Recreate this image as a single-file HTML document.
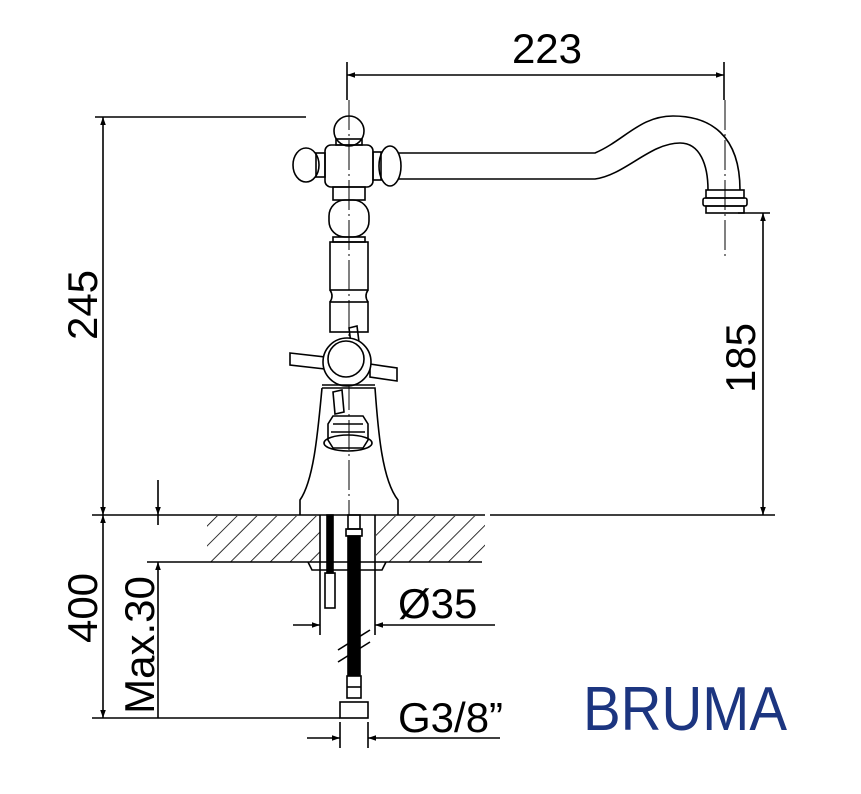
<!DOCTYPE html>
<html><head><style>body{margin:0;background:#fff}svg{display:block}</style></head>
<body>
<svg width="861" height="794" viewBox="0 0 861 794" xmlns="http://www.w3.org/2000/svg" font-family="Liberation Sans, sans-serif">
<defs>
<marker id="a" viewBox="0 0 10 10" refX="10" refY="5" markerWidth="12" markerHeight="8" markerUnits="userSpaceOnUse" orient="auto-start-reverse"><path d="M0,1.5 L10,5 L0,8.5z" fill="#000"/></marker>
<pattern id="h" width="14" height="14" patternUnits="userSpaceOnUse" patternTransform="rotate(45)"><line x1="0" y1="0" x2="0" y2="14" stroke="#000" stroke-width="1.6"/></pattern>
</defs>
<g stroke="#000" stroke-width="1.6" fill="none">
<!-- 223 -->
<line x1="347" y1="62" x2="347" y2="100"/><line x1="724" y1="62" x2="724" y2="100"/>
<line x1="347" y1="75" x2="724" y2="75" marker-start="url(#a)" marker-end="url(#a)"/>
<!-- 245 -->
<line x1="95" y1="117" x2="306" y2="117"/>
<line x1="103" y1="117" x2="103" y2="515" marker-start="url(#a)" marker-end="url(#a)"/>
<!-- counter -->
<line x1="92" y1="515" x2="485" y2="515"/><line x1="490" y1="515" x2="775" y2="515"/>
<!-- 185 -->
<line x1="738" y1="213" x2="770" y2="213"/>
<line x1="763" y1="213" x2="763" y2="515" marker-start="url(#a)" marker-end="url(#a)"/>
<!-- center lines -->
<line x1="349" y1="100" x2="349" y2="515" stroke-width="1" stroke-dasharray="30,4,2,4"/>
<line x1="725" y1="100" x2="725" y2="260" stroke-width="1" stroke-dasharray="30,4,2,4"/>
<!-- spout -->
<path d="M398,153 L595,153 C625,140 640,116 673,116 C710,116 740,135 740,190"/>
<path d="M398,179 L595,179 C625,175 650,143 680,143 C700,143 708,165 708,190"/>
<rect x="706" y="190" width="38" height="8"/><rect x="703" y="198" width="44" height="8" rx="2"/><rect x="706" y="206" width="38" height="7"/>
<!-- head -->
<ellipse cx="349" cy="131" rx="15" ry="15"/><rect x="336" y="139" width="26" height="6"/>
<rect x="325" y="145" width="48" height="42" rx="6"/>
<ellipse cx="306" cy="165" rx="13" ry="17"/><rect x="316" y="153" width="9" height="24"/>
<ellipse cx="390" cy="166" rx="11" ry="20"/><rect x="373" y="152" width="8" height="28"/>
<!-- column -->
<rect x="333" y="187" width="32" height="13"/>
<rect x="329" y="200" width="40" height="37" rx="16"/>
<rect x="333" y="237" width="32" height="5"/>
<rect x="330" y="242" width="38" height="48"/>
<path d="M330,290 Q334,296 330,302 M368,290 Q364,296 368,302"/>
<rect x="330" y="302" width="38" height="30"/>
<!-- cross handle -->
<path d="M290,353 L325,357 L325,369 L290,365 Z"/>
<path d="M370,364 L397,368 L397,381 L370,377 Z"/>
<path d="M349,328 L357,326 L359,342 L351,344 Z"/>
<path d="M333,392 L342,390 L344,412 L335,414 Z"/>
<circle cx="347" cy="362" r="24" fill="#fff"/>
<circle cx="346" cy="359" r="18"/>
<!-- base -->
<path d="M322,388 L375,388 C378,430 382,480 398,500 L398,515 M322,388 C318,430 314,480 300,500 L300,515"/>
<line x1="322" y1="385" x2="375" y2="385"/>
<path d="M333,416 L363,416 L368,424 L368,440 L363,448 L333,448 L328,440 L328,424 Z"/>
<ellipse cx="348" cy="443" rx="24" ry="8"/>
<line x1="333" y1="424" x2="363" y2="424"/><line x1="331" y1="432" x2="365" y2="432"/>
<!-- hatched block -->
<rect x="207" y="516" width="113" height="46" fill="url(#h)" stroke="none"/>
<rect x="376" y="516" width="109" height="46" fill="url(#h)" stroke="none"/>
<line x1="147" y1="562" x2="482" y2="562"/>
<line x1="320" y1="515" x2="320" y2="635"/><line x1="375" y1="515" x2="375" y2="635"/>
<path d="M308,562 L312,570 L382,570 L386,562"/>
<!-- thin pipe -->
<rect x="327" y="515" width="6" height="58" fill="#000"/>
<rect x="325" y="573" width="10" height="35"/>
<!-- hose -->
<rect x="348" y="515" width="12" height="14"/>
<rect x="346" y="529" width="16" height="7"/>
<rect x="348" y="536" width="12" height="160" fill="#000"/>
<rect x="347" y="676" width="14" height="22" fill="#fff"/>
<line x1="347" y1="687" x2="361" y2="687"/>
<rect x="340" y="702" width="28" height="16"/>
<line x1="338" y1="650" x2="370" y2="630"/><line x1="338" y1="662" x2="370" y2="642"/>
<!-- Ø35 -->
<line x1="293" y1="625" x2="320" y2="625" marker-end="url(#a)"/>
<line x1="495" y1="625" x2="375" y2="625" marker-end="url(#a)"/>
<!-- G3/8 -->
<line x1="340" y1="722" x2="340" y2="748"/><line x1="368" y1="722" x2="368" y2="748"/>
<line x1="307" y1="738" x2="340" y2="738" marker-end="url(#a)"/>
<line x1="500" y1="738" x2="368" y2="738" marker-end="url(#a)"/>
<!-- Max.30 -->
<line x1="158" y1="480" x2="158" y2="515" marker-end="url(#a)"/>
<line x1="158" y1="718" x2="158" y2="562" marker-end="url(#a)"/>
<line x1="158" y1="515" x2="158" y2="525"/>
<!-- 400 -->
<line x1="103" y1="515" x2="103" y2="718" marker-start="url(#a)" marker-end="url(#a)"/>
<line x1="92" y1="718" x2="340" y2="718"/>
</g>
<g font-size="42" fill="#000">
<text x="547" y="63" text-anchor="middle">223</text>
<text transform="translate(97,305) rotate(-90)" text-anchor="middle">245</text>
<text transform="translate(755,358) rotate(-90)" text-anchor="middle">185</text>
<text transform="translate(97,608) rotate(-90)" text-anchor="middle">400</text>
<text transform="translate(154,645) rotate(-90)" text-anchor="middle">Max.30</text>
<text x="398" y="618">Ø35</text>
<text x="398" y="732">G3/8”</text>
</g>
<text x="583" y="730" font-size="62" fill="#1c3580" textLength="204" lengthAdjust="spacingAndGlyphs">BRUMA</text>
</svg>
</body></html>
